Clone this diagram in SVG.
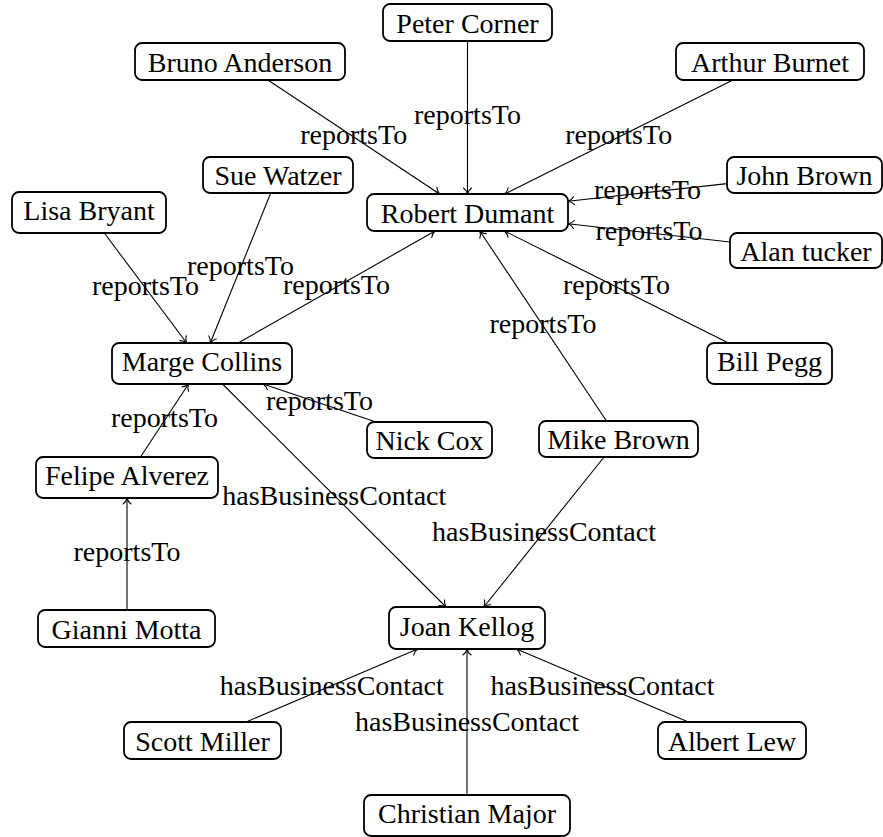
<svg xmlns="http://www.w3.org/2000/svg" width="883" height="837" viewBox="0 0 883 837" font-family="Liberation Serif, serif" font-size="28">
<style>
  .node rect { fill: #ffffff; stroke: #000000; stroke-width: 1.8; }
  text { fill: #000000; text-anchor: middle; }
  .edge { fill: none; stroke: #000000; stroke-width: 1.1; marker-end: url(#arr); }
</style>
<defs>
  <marker id="arr" markerWidth="10" markerHeight="10" viewBox="-8 -5 10 10" refX="0" refY="0" orient="auto" markerUnits="userSpaceOnUse">
    <path d="M-6,-4 C-4.5,-1.8 -1.5,-0.4 0,0 C-1.5,0.4 -4.5,1.8 -6,4" fill="none" stroke="#000000" stroke-width="1.1" stroke-linecap="round"/>
  </marker>
</defs>
<rect x="0" y="0" width="883" height="837" fill="#ffffff"/>
<g id="connectors" font-family="Liberation Serif, serif">
  <path class="edge" d="M467.5,41 L467.5,194"/>
  <path class="edge" d="M267.9,80 L439.6,194"/>
  <path class="edge" d="M732.9,80 L504.6,194"/>
  <path class="edge" d="M727,183.6 L568,201.3"/>
  <path class="edge" d="M730,242 L568,223.8"/>
  <path class="edge" d="M728.5,343 L504.5,231"/>
  <path class="edge" d="M606.5,421 L479.8,231"/>
  <path class="edge" d="M238.1,343 L435,231"/>
  <path class="edge" d="M104.3,233 L186.7,343"/>
  <path class="edge" d="M270.7,193 L210.3,343"/>
  <path class="edge" d="M376,422 L263,384"/>
  <path class="edge" d="M140.5,457 L188.5,384"/>
  <path class="edge" d="M127,610 L127,498"/>
  <path class="edge" d="M222.5,384 L446,607"/>
  <path class="edge" d="M604.1,457 L483.8,607"/>
  <path class="edge" d="M246,722 L417.6,649"/>
  <path class="edge" d="M467,795 L467,649"/>
  <path class="edge" d="M688.4,722 L516.5,649"/>
  <text x="467.5" y="124">reportsTo</text>
  <text x="353.7" y="143.5">reportsTo</text>
  <text x="618.7" y="143.5">reportsTo</text>
  <text x="647.5" y="199">reportsTo</text>
  <text x="649" y="239.5">reportsTo</text>
  <text x="616.5" y="293.5">reportsTo</text>
  <text x="543" y="332.5">reportsTo</text>
  <text x="336.5" y="293.5">reportsTo</text>
  <text x="145.5" y="294.5">reportsTo</text>
  <text x="240.5" y="274.5">reportsTo</text>
  <text x="319.5" y="409.5">reportsTo</text>
  <text x="164.5" y="427">reportsTo</text>
  <text x="127" y="560.5">reportsTo</text>
  <text x="334.3" y="504.5">hasBusinessContact</text>
  <text x="544" y="541">hasBusinessContact</text>
  <text x="331.8" y="694.5">hasBusinessContact</text>
  <text x="467" y="731">hasBusinessContact</text>
  <text x="602.5" y="694.5">hasBusinessContact</text>
</g>
<g id="nodes" font-family="Liberation Serif, serif">
<g id="peter" class="node"><rect x="383" y="4" width="169" height="37" rx="7"/><text x="467.5" y="32.5">Peter Corner</text></g>
<g id="bruno" class="node"><rect x="135" y="43" width="210" height="37" rx="7"/><text x="240" y="71.5">Bruno Anderson</text></g>
<g id="arthur" class="node"><rect x="676" y="43" width="188" height="37" rx="7"/><text x="770" y="71.5">Arthur Burnet</text></g>
<g id="sue" class="node"><rect x="203" y="157" width="150" height="36" rx="7"/><text x="278" y="185">Sue Watzer</text></g>
<g id="lisa" class="node"><rect x="12" y="192" width="154" height="41" rx="7"/><text x="89" y="220">Lisa Bryant</text></g>
<g id="robert" class="node"><rect x="367" y="194" width="201" height="37" rx="7"/><text x="467.5" y="222.5">Robert Dumant</text></g>
<g id="john" class="node"><rect x="727" y="157" width="155" height="36" rx="7"/><text x="804.5" y="185">John Brown</text></g>
<g id="alan" class="node"><rect x="730" y="233" width="152" height="35" rx="7"/><text x="806" y="260.5">Alan tucker</text></g>
<g id="marge" class="node"><rect x="112" y="343" width="180" height="41" rx="7"/><text x="202" y="371">Marge Collins</text></g>
<g id="bill" class="node"><rect x="707" y="343" width="125" height="41" rx="7"/><text x="769.5" y="371">Bill Pegg</text></g>
<g id="nick" class="node"><rect x="367" y="422" width="125" height="36" rx="7"/><text x="429.5" y="450">Nick Cox</text></g>
<g id="mike" class="node"><rect x="539" y="421" width="159" height="36" rx="7"/><text x="618.5" y="449">Mike Brown</text></g>
<g id="felipe" class="node"><rect x="36" y="457" width="182" height="41" rx="7"/><text x="127" y="485">Felipe Alverez</text></g>
<g id="gianni" class="node"><rect x="38" y="610" width="177" height="37" rx="7"/><text x="126.5" y="638.5">Gianni Motta</text></g>
<g id="joan" class="node"><rect x="389" y="607" width="156" height="42" rx="7"/><text x="467" y="635.5">Joan Kellog</text></g>
<g id="scott" class="node"><rect x="124" y="722" width="157" height="37" rx="7"/><text x="202.5" y="750.5">Scott Miller</text></g>
<g id="albert" class="node"><rect x="658" y="722" width="148" height="37" rx="7"/><text x="732" y="750.5">Albert Lew</text></g>
<g id="christian" class="node"><rect x="364" y="795" width="206" height="41" rx="7"/><text x="467" y="823">Christian Major</text></g>
</g>
</svg>
